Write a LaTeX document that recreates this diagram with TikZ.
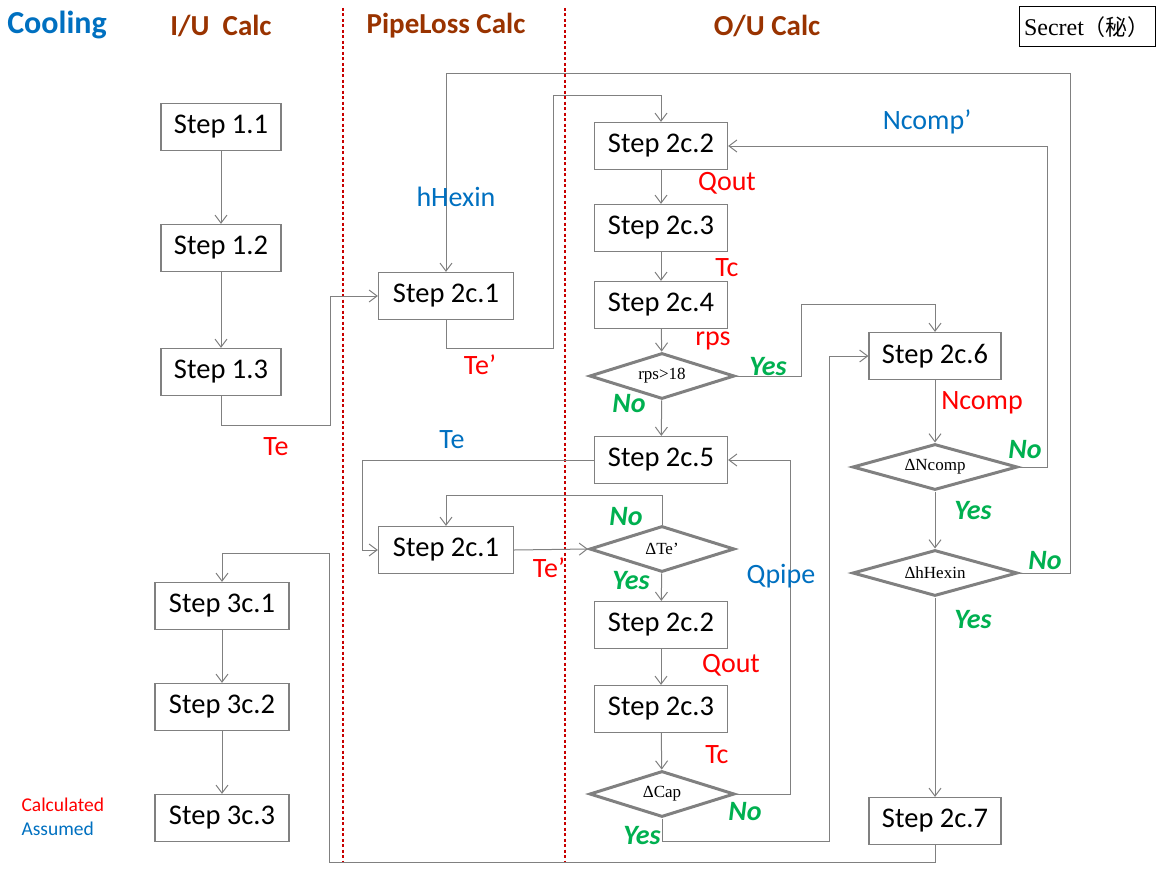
\documentclass[tikz,border=0pt]{standalone}
\usepackage{fontspec}
\setmainfont{Carlito}
\newfontfamily\tnr{Liberation Serif}
\newfontfamily\cjk{Noto Sans CJK SC}
\usetikzlibrary{shapes.geometric,arrows.meta}
\definecolor{ublue}{RGB}{0,112,192}
\definecolor{ubrown}{RGB}{153,51,0}
\definecolor{ugreen}{RGB}{0,176,80}
\definecolor{ured}{RGB}{255,0,0}
\definecolor{sepred}{RGB}{200,0,0}
\definecolor{ugray}{RGB}{128,128,128}
\tikzset{
  stepbox/.style={draw=ugray,line width=1.2pt,minimum height=47pt,inner sep=0pt,font=\fontsize{28.5}{32}\selectfont},
  sbox/.style={stepbox,minimum width=120pt},
  mbox/.style={stepbox,minimum width=134pt},
  dia/.style={diamond,shape aspect=3.2,draw=ugray,line width=3pt,inner sep=0pt,minimum width=145pt,minimum height=46pt,font=\tnr\fontsize{17}{18}\selectfont},
  wdia/.style={dia,minimum width=165pt},
  arr/.style={draw=ugray,line width=1pt,-{Straight Barb[length=8pt,width=12pt,line width=1pt]}},
  calc/.style={text=ured,font=\fontsize{28}{30}\selectfont},
  assm/.style={text=ublue,font=\fontsize{28}{30}\selectfont},
  yn/.style={text=ugreen,font=\bfseries\itshape\fontsize{28}{30}\selectfont},
  ttl/.style={text=ubrown,font=\bfseries\fontsize{29}{32}\selectfont},
  sepline/.style={color=sepred,line width=1.2pt,dash pattern=on 3pt off 2.5pt}
}
\begin{document}
\begin{tikzpicture}[x=1pt,y=-1pt]
\useasboundingbox (0,0) rectangle (1161,875);
% titles
\node[text=ublue,font=\bfseries\fontsize{32}{36}\selectfont] (tcool) at (57,25) {Cooling};
\node[ttl] (tiu) at (221,26) {I/U\ \ Calc};
\node[ttl] (tpl) at (446,26) {PipeLoss Calc};
\node[ttl] (tou) at (767,26) {O/U Calc};
\node[draw=black,line width=1pt,minimum width=136pt,minimum height=40pt,inner sep=0pt,font=\tnr\fontsize{24}{26}\selectfont] (secret) at (1087,27) {Secret{\cjk\fontsize{22}{24}\selectfont （秘）}};
% separators
\coordinate (sa1) at (343,8); \coordinate (sa2) at (343,862);
\coordinate (sb1) at (565,8); \coordinate (sb2) at (565,862);
\draw[sepline] (sa1) -- (sa2);
\draw[sepline] (sb1) -- (sb2);
% I/U boxes
\node[sbox] (s11) at (221,127) {Step 1.1};
\node[sbox] (s12) at (221,248) {Step 1.2};
\node[sbox] (s13) at (221,372) {Step 1.3};
\node[mbox] (r1) at (222,606) {Step 3c.1};
\node[mbox] (r2) at (222,707) {Step 3c.2};
\node[mbox] (r3) at (222,818) {Step 3c.3};
% pipeloss boxes
\node[mbox,minimum width=135pt] (p1) at (446,296) {Step 2c.1};
\node[mbox,minimum width=135pt] (q1) at (446,550) {Step 2c.1};
% O/U
\node[mbox,minimum width=133pt] (o2) at (661,146) {Step 2c.2};
\node[mbox,minimum width=133pt] (o3) at (661,228) {Step 2c.3};
\node[mbox,minimum width=133pt] (o4) at (661,305) {Step 2c.4};
\node[dia] (d1) at (662,376) {rps\textgreater18};
\node[mbox,minimum width=133pt] (o5) at (661,460) {Step 2c.5};
\node[dia] (d2) at (662,549) {ΔTe’};
\node[mbox,minimum width=133pt] (q2) at (661,625) {Step 2c.2};
\node[mbox,minimum width=133pt] (q3) at (661,709) {Step 2c.3};
\node[dia] (d3) at (662,794) {ΔCap};
\node[mbox,minimum width=132pt] (o6) at (935,356) {Step 2c.6};
\node[wdia] (dn) at (935,467) {ΔNcomp};
\node[wdia] (dh) at (935,573) {ΔhHexin};
\node[mbox,minimum width=132pt] (o7) at (935,821) {Step 2c.7};
% connectors
\draw[arr] (s11) -- (s12);
\draw[arr] (s12) -- (s13);
\draw[arr] (s13.south) -- ++(0,29) -| (330,296) -- (p1.west);
\draw[arr] (p1.south) -- ++(0,28) -| (553,95) -| (o2.north);
\draw[arr] (dh.east) -| (1070,73) -| (p1.north);
\draw[arr] (dn.east) -| (1047,146) -- (o2.east);
\draw[arr] (o2) -- (o3);
\draw[arr] (o3) -- (o4);
\draw[arr] (o4) -- (d1);
\draw[arr] (d1) -- (o5);
\draw[arr] (d1.east) -| (801,304) -| (o6.north);
\draw[arr] (o6) -- (dn);
\draw[arr] (dn) -- (dh);
\draw[arr] (dh) -- (o7);
\draw[arr] (o5.west) -| (362,550) -- (q1.west);
\draw[arr] (q1.east) -- (d2.west);
\draw[arr] (d2.north) -- ++(0,-29) -| (q1.north);
\draw[arr] (d2) -- (q2);
\draw[arr] (q2) -- (q3);
\draw[arr] (q3) -- (d3);
\draw[arr] (d3.east) -| (790,460) -- (o5.east);
\draw[arr] (d3.south) -- ++(0,23) -| (829,356) -- (o6.west);
\draw[arr] (o7.south) -- ++(0,17) -| (329,553) -| (r1.north);
\draw[arr] (r1) -- (r2);
\draw[arr] (r2) -- (r3);
% labels
\node[calc] (lq1) at (727,183) {Qout};
\node[calc] (ltc1) at (727,268) {Tc};
\node[calc] (lrps) at (713,341) {rps};
\node[calc] (lte1) at (480,365) {Te’};
\node[calc] (lte0) at (276,447) {Te};
\node[calc] (lnc) at (982,403) {Ncomp};
\node[calc] (lq2) at (731,665) {Qout};
\node[calc] (ltc2) at (717,755) {Tc};
\node[calc] (lte2) at (549,568) {Te’};
\node[assm] (lhh) at (456,197) {hHexin};
\node[assm] (lncp) at (927,122) {Ncomp’};
\node[assm] (lte3) at (452,440) {Te};
\node[assm] (lqp) at (781,576) {Qpipe};
\node[yn] (y1) at (768,367) {Yes};
\node[yn] (n1) at (629,404) {No};
\node[yn] (n2) at (1025,450) {No};
\node[yn] (y2) at (973,511) {Yes};
\node[yn] (n3) at (1045,561) {No};
\node[yn] (y3) at (973,620) {Yes};
\node[yn] (n4) at (626,517) {No};
\node[yn] (y4) at (631,581) {Yes};
\node[yn] (n5) at (745,812) {No};
\node[yn] (y5) at (642,836) {Yes};
\node[text=ured,font=\fontsize{19.5}{21}\selectfont,anchor=west] (kc) at (18,805) {Calculated};
\node[text=ublue,font=\fontsize{19.5}{21}\selectfont,anchor=west] (ka) at (18,829) {Assumed};
\end{tikzpicture}
\end{document}
